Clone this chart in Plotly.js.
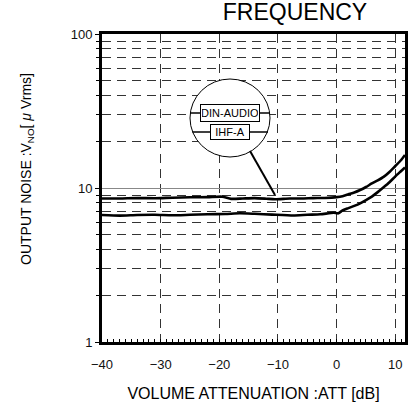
<!DOCTYPE html>
<html>
<head>
<meta charset="utf-8">
<script src="https://cdn.plot.ly/plotly-3.0.1.min.js"></script>
<style>html,body{margin:0;padding:0;background:#fff;}#chart{width:420px;height:408px;}</style>
</head>
<body>
<div id="chart"></div>
<script>
// Volume attenuation [dB]
const attDin = [-40, -37, -34, -31, -28, -25, -22, -19.5, -18, -16, -14, -12, -10.5, -8, -6, -4, -2, 0, 1, 2, 3, 4, 5, 6, 7, 8, 9, 10, 11, 11.65];
// Output noise, DIN-AUDIO weighting [µVrms]
const noiseDin = [8.55, 8.55, 8.6, 8.58, 8.65, 8.7, 8.72, 8.78, 8.5, 8.55, 8.6, 8.52, 8.45, 8.55, 8.55, 8.6, 8.62, 8.72, 8.85, 9.1, 9.35, 9.7, 10.15, 10.7, 11.2, 11.8, 12.7, 13.9, 15.2, 16.4];

const attIhf = [-40, -37, -34, -31, -28, -25, -22, -19, -16.5, -14, -11, -7.4, -5, -2.8, -0.5, 0.3, 1, 2, 3, 4, 5, 6, 7, 8, 9, 10, 11, 11.65];
// Output noise, IHF-A weighting [µVrms]
const noiseIhf = [6.68, 6.62, 6.68, 6.7, 6.65, 6.7, 6.75, 6.78, 6.85, 6.8, 6.72, 6.63, 6.7, 6.75, 6.9, 6.85, 7.15, 7.4, 7.65, 7.95, 8.35, 8.8, 9.4, 10.1, 10.9, 11.9, 12.9, 13.6];

const seriesNames = ['DIN-AUDIO', 'IHF-A'];
const xTickVals = [-40, -30, -20, -10, 0, 10];
const xTickText = ['\u221240', '\u221230', '\u221220', '\u221210', '0', '10'];
const yTickVals = [1, 10, 100];
const yTickText = ['1', '10', '100'];

const FONT = 'Liberation Sans, Arial, sans-serif';
const DASH = '9px,6px';

const traces = [
  {x: attDin, y: noiseDin, name: seriesNames[0], type: 'scatter', mode: 'lines',
   line: {color: '#000', width: 2.6, shape: 'spline', smoothing: 0.6}},
  {x: attIhf, y: noiseIhf, name: seriesNames[1], type: 'scatter', mode: 'lines',
   line: {color: '#000', width: 2.6, shape: 'spline', smoothing: 0.6}}
];

// paper-coordinate helpers for the magnifier callout decoration
const px = v => (v - 102) / 303;
const py = v => (342 - v) / 308;

const layout = {
  width: 420, height: 408,
  margin: {l: 102, r: 15, t: 34, b: 66},
  paper_bgcolor: '#fff', plot_bgcolor: '#fff',
  showlegend: false,
  font: {family: FONT, color: '#000', size: 13},
  title: {text: 'FREQUENCY', x: 295 / 420, xref: 'container', xanchor: 'center',
          y: 1 - 11.5 / 408, yref: 'container', yanchor: 'middle',
          font: {family: FONT, size: 23, color: '#000'}},
  xaxis: {
    range: [-40, 11.65], type: 'linear',
    tickmode: 'array', tickvals: xTickVals, ticktext: xTickText,
    ticks: 'inside', ticklen: 3, tickwidth: 1, tickcolor: '#000',
    ticklabelstandoff: 8,
    tickfont: {family: FONT, size: 13, color: '#111'},
    showgrid: true, gridcolor: '#333', gridwidth: 1, griddash: DASH,
    zeroline: false,
    showline: true, linecolor: '#000', linewidth: 3, mirror: true,
    minor: {dtick: 1, ticks: 'inside', ticklen: 3, tickwidth: 1, tickcolor: '#000', showgrid: false},
    title: {text: 'VOLUME ATTENUATION :ATT [dB]', standoff: 18,
            font: {family: FONT, size: 16, color: '#000'}},
    automargin: false
  },
  yaxis: {
    type: 'log', range: [0, 2],
    tickmode: 'array', tickvals: yTickVals, ticktext: yTickText,
    ticks: 'outside', ticklen: 4, tickwidth: 1, tickcolor: '#000',
    tickfont: {family: FONT, size: 13, color: '#111'},
    showgrid: true, gridcolor: '#888', gridwidth: 1,
    zeroline: false,
    showline: true, linecolor: '#000', linewidth: 3, mirror: true,
    minor: {dtick: 'D1', ticks: 'outside', ticklen: 3, tickwidth: 1, tickcolor: '#000',
            showgrid: true, gridcolor: '#333', gridwidth: 1, griddash: DASH},
    automargin: false
  },
  shapes: [
    {type: 'circle', xref: 'paper', yref: 'paper', x0: px(190), x1: px(270), y0: py(157), y1: py(79),
     line: {color: '#000', width: 1}, fillcolor: '#fff', layer: 'above'},
    {type: 'line', xref: 'paper', yref: 'paper', x0: px(190), x1: px(201), y0: py(113), y1: py(113), line: {color: '#000', width: 1.5}},
    {type: 'line', xref: 'paper', yref: 'paper', x0: px(260), x1: px(270), y0: py(113), y1: py(113), line: {color: '#000', width: 1.5}},
    {type: 'line', xref: 'paper', yref: 'paper', x0: px(192.5), x1: px(210.7), y0: py(132), y1: py(132), line: {color: '#000', width: 1.5}},
    {type: 'line', xref: 'paper', yref: 'paper', x0: px(249.3), x1: px(268), y0: py(132), y1: py(132), line: {color: '#000', width: 1.5}},
    {type: 'line', xref: 'paper', yref: 'paper', x0: px(250), x1: px(275), y0: py(151), y1: py(195), line: {color: '#000', width: 2}}
  ],
  annotations: [
    {text: 'OUTPUT NOISE :V<sub>NO</sub>[ <i>\u03bc</i> Vrms]', textangle: -90,
     xref: 'paper', yref: 'paper', x: px(27), y: py(169), showarrow: false,
     xanchor: 'center', yanchor: 'middle',
     font: {family: FONT, size: 14, color: '#000'}},
    {text: seriesNames[0], xref: 'paper', yref: 'paper', x: px(230.3), y: py(113), showarrow: false,
     xanchor: 'center', yanchor: 'middle', width: 56, height: 14, borderpad: 1,
     bordercolor: '#000', borderwidth: 1, bgcolor: '#fff',
     font: {family: FONT, size: 11, color: '#000'}},
    {text: seriesNames[1], xref: 'paper', yref: 'paper', x: px(230), y: py(132.2), showarrow: false,
     xanchor: 'center', yanchor: 'middle', width: 36, height: 12, borderpad: 1,
     bordercolor: '#000', borderwidth: 1, bgcolor: '#fff',
     font: {family: FONT, size: 11, color: '#000'}}
  ]
};

Plotly.newPlot('chart', traces, layout, {displayModeBar: false, staticPlot: true});
</script>
</body>
</html>
